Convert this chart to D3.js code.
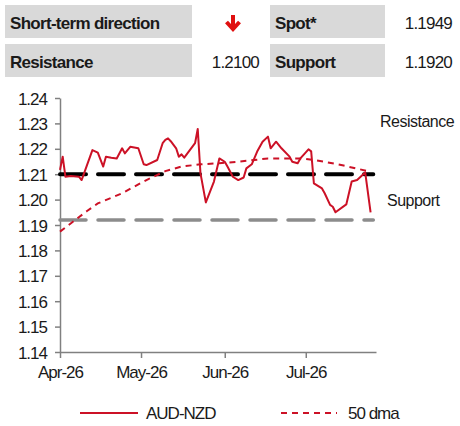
<!DOCTYPE html>
<html>
<head>
<meta charset="utf-8">
<script src="https://cdn.jsdelivr.net/npm/d3@7"></script>
<style>
  body { margin: 0; background: #fff; }
  text { font-family: "Liberation Sans", Arial, sans-serif; }
</style>
</head>
<body>
<div id="chart"></div>
<script>
// AUD-NZD spot
var priceDates = ['2026-04-01','2026-04-02','2026-04-03','2026-04-05','2026-04-08','2026-04-09',
  '2026-04-11','2026-04-13','2026-04-15','2026-04-17','2026-04-18','2026-04-20','2026-04-22',
  '2026-04-24','2026-04-25','2026-04-27','2026-04-30','2026-05-02','2026-05-03','2026-05-07',
  '2026-05-09','2026-05-10','2026-05-11','2026-05-12','2026-05-14','2026-05-15','2026-05-16',
  '2026-05-17','2026-05-21','2026-05-22','2026-05-23','2026-05-25','2026-05-28','2026-05-30',
  '2026-06-01','2026-06-02','2026-06-04','2026-06-06','2026-06-08','2026-06-09','2026-06-11',
  '2026-06-13','2026-06-15','2026-06-17','2026-06-18','2026-06-20','2026-06-22','2026-06-25',
  '2026-06-26','2026-06-28','2026-06-29','2026-07-02','2026-07-03','2026-07-04','2026-07-07',
  '2026-07-08','2026-07-10','2026-07-11','2026-07-12','2026-07-16','2026-07-18','2026-07-20',
  '2026-07-23','2026-07-25'];
var priceValues = [1.2117,1.2169,1.2090,1.2093,1.2090,1.2077,
  1.2136,1.2195,1.2185,1.2130,1.2169,1.2165,1.2162,
  1.2202,1.2182,1.2208,1.2202,1.2139,1.2136,1.2156,
  1.2222,1.2235,1.2241,1.2230,1.2202,1.2169,1.2178,
  1.2165,1.2222,1.2278,1.2104,1.1989,1.2071,1.2162,
  1.2149,1.2130,1.2090,1.2077,1.2087,1.2123,1.2139,
  1.2189,1.2228,1.2248,1.2202,1.2228,1.2202,1.2169,
  1.2149,1.2143,1.2162,1.2198,1.2190,1.2064,1.2044,
  1.2025,1.1979,1.1972,1.1950,1.1981,1.2071,1.2077,
  1.2107,1.1950];

// 50 day moving average
var dmaDates = ['2026-04-01','2026-04-11','2026-04-15','2026-04-24','2026-05-03','2026-05-10',
  '2026-05-16','2026-05-23','2026-05-30','2026-06-06','2026-06-17','2026-06-23','2026-06-30',
  '2026-07-08','2026-07-15','2026-07-24','2026-07-25'];
var dmaValues = [1.1874,1.1955,1.1985,1.2025,1.2077,1.2112,
  1.2130,1.2139,1.2143,1.2149,1.2162,1.2162,1.2162,
  1.2149,1.2134,1.2112,1.2110];

var levelNames = ['Resistance', 'Support'];
var levelValues = [1.2100, 1.1920];
var spot = 1.1949;

var yTicks = [1.14,1.15,1.16,1.17,1.18,1.19,1.20,1.21,1.22,1.23,1.24];
var xTicks = ['2026-04-01','2026-05-01','2026-06-01','2026-07-01'];
var seriesNames = ['AUD-NZD', '50 dma'];

var parse = d3.timeParse('%Y-%m-%d');
var red = '#cc1126';

var svg = d3.select('#chart').append('svg')
    .attr('width', 460)
    .attr('height', 426);

// header table
var cells = [
  {x: 5, y: 5, w: 187, label: 'Short-term direction'},
  {x: 270, y: 5, w: 115, label: 'Spot*'},
  {x: 5, y: 44, w: 187, label: levelNames[0]},
  {x: 270, y: 44, w: 115, label: levelNames[1]}
];
svg.selectAll('.cell').data(cells).enter().append('rect')
    .attr('x', function(d) { return d.x; })
    .attr('y', function(d) { return d.y; })
    .attr('width', function(d) { return d.w; })
    .attr('height', 33)
    .style('fill', '#d9d9d9');
svg.selectAll('.cellText').data(cells).enter().append('text')
    .attr('x', function(d) { return d.x + 5; })
    .attr('y', function(d) { return d.y + 24; })
    .style('font-size', '17px')
    .style('font-weight', 'bold')
    .style('letter-spacing', '-0.7px')
    .style('fill', '#1a1a1a')
    .text(function(d) { return d.label; });

var vals = [
  {x: 452, y: 29, v: spot},
  {x: 259, y: 68, v: levelValues[0]},
  {x: 452, y: 68, v: levelValues[1]}
];
svg.selectAll('.val').data(vals).enter().append('text')
    .attr('x', function(d) { return d.x; })
    .attr('y', function(d) { return d.y; })
    .attr('text-anchor', 'end')
    .style('font-size', '17px')
    .style('letter-spacing', '-0.8px')
    .style('fill', '#1a1a1a')
    .text(function(d) { return d3.format('.4f')(d.v); });

// down arrow
var arrow = svg.append('g').attr('transform', 'translate(233, 0)')
    .style('stroke', '#e01010').style('stroke-width', 4).style('fill', 'none');
arrow.append('line').attr('x1', 0).attr('x2', 0).attr('y1', 15).attr('y2', 29);
arrow.append('polyline').attr('points', '-6.5,22 0,29 6.5,22')
    .style('stroke-linejoin', 'miter').style('stroke-linecap', 'butt');

// chart
var x = d3.scaleTime()
    .domain([parse('2026-04-01'), parse('2026-07-27')])
    .range([60, 376]);
var y = d3.scaleLinear()
    .domain([1.14, 1.24])
    .range([352, 98]);

var yAxis = svg.append('g')
    .attr('transform', 'translate(60,0)')
    .call(d3.axisLeft(y).tickValues(yTicks).tickFormat(d3.format('.2f')).tickSize(5).tickSizeOuter(0));
var xAxis = svg.append('g')
    .attr('transform', 'translate(0,352)')
    .call(d3.axisBottom(x).tickValues(xTicks.map(parse)).tickFormat(d3.timeFormat('%b-%y')).tickSize(6).tickSizeOuter(0));

[yAxis, xAxis].forEach(function(a) {
  a.select('.domain').style('stroke', '#808080').style('stroke-width', 1.5);
  a.selectAll('.tick line').style('stroke', '#808080').style('stroke-width', 1.5);
  a.selectAll('text')
      .style('font-family', '"Liberation Sans", Arial, sans-serif')
      .style('font-size', '17px')
      .style('letter-spacing', '-1px')
      .style('fill', '#1a1a1a');
});
yAxis.selectAll('text').attr('x', -13).attr('dy', '0.36em');
xAxis.selectAll('text').attr('y', 14).attr('dy', '0.71em');

// resistance / support lines
var levelEnd = parse('2026-07-26');
var levelStyle = [
  {color: '#000', width: 4},
  {color: '#8c8c8c', width: 3.5}
];
levelValues.forEach(function(v, i) {
  svg.append('line')
      .attr('x1', x(parse('2026-04-01')))
      .attr('x2', x(levelEnd))
      .attr('y1', y(v))
      .attr('y2', y(v))
      .style('stroke', levelStyle[i].color)
      .style('stroke-width', levelStyle[i].width)
      .style('stroke-dasharray', '26,12')
      .style('stroke-linecap', 'round');
});

var line = d3.line()
    .x(function(d) { return x(d.date); })
    .y(function(d) { return y(d.value); });

var dma = dmaDates.map(function(d, i) { return {date: parse(d), value: dmaValues[i]}; });
var price = priceDates.map(function(d, i) { return {date: parse(d), value: priceValues[i]}; });

svg.append('path')
    .datum(dma)
    .attr('d', line)
    .style('fill', 'none')
    .style('stroke', red)
    .style('stroke-width', 2)
    .style('stroke-dasharray', '6,5');

svg.append('path')
    .datum(price)
    .attr('d', line)
    .style('fill', 'none')
    .style('stroke', red)
    .style('stroke-width', 2)
    .style('stroke-linejoin', 'round');

// level labels
svg.append('text')
    .attr('x', 380).attr('y', 127)
    .style('font-size', '16px').style('letter-spacing', '-0.5px').style('fill', '#1a1a1a')
    .text(levelNames[0]);
svg.append('text')
    .attr('x', 387).attr('y', 206)
    .style('font-size', '16px').style('letter-spacing', '-0.5px').style('fill', '#1a1a1a')
    .text(levelNames[1]);

// legend
var legend = [
  {x1: 80, x2: 138, tx: 146, dash: null},
  {x1: 281, x2: 337, tx: 348, dash: '6,5'}
];
legend.forEach(function(l, i) {
  svg.append('line')
      .attr('x1', l.x1).attr('x2', l.x2)
      .attr('y1', 413).attr('y2', 413)
      .style('stroke', red)
      .style('stroke-width', 2)
      .style('stroke-dasharray', l.dash);
  svg.append('text')
      .attr('x', l.tx).attr('y', 419)
      .style('font-size', '17px').style('letter-spacing', '-1px').style('fill', '#1a1a1a')
      .text(seriesNames[i]);
});
</script>
</body>
</html>
